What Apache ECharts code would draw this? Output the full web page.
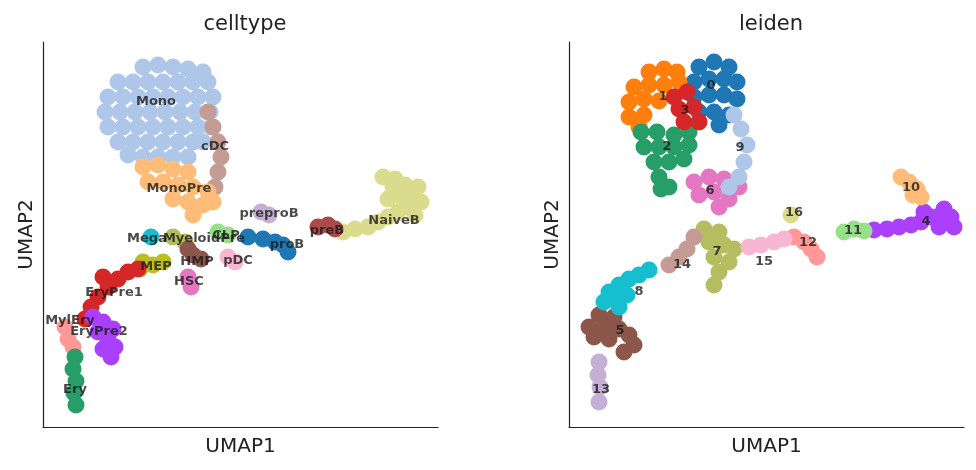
<!DOCTYPE html>
<html><head><meta charset="utf-8">
<script src="https://cdn.jsdelivr.net/npm/echarts@6/dist/echarts.min.js"></script>
<style>html,body{margin:0;background:#fff}#c{width:976px;height:470px}</style>
</head><body><div id="c"></div>
<script>
// celltype clusters (UMAP units)
const ctNames=["Mono","cDC","MonoPre","preproB","NaiveB","preB","proB","CLP","Mega","MyeloidPre","MEP","HMP","pDC","HSC","EryPre1","MylEry","EryPre2","Ery"];
const ctColors=["#aec7e8","#c49c94","#ffbb78","#c5b0d5","#dbdb8d","#ad494a","#1f77b4","#98df8a","#17becf","#b5bd61","#bcbd22","#8c564b","#f7b6d2","#e377c2","#d62728","#ff9896","#aa40fc","#279e68"];
const ctPoints=[
 [[100,360],[115,362],[130,360],[145,358],[160,355],[75,345],[90,345],[105,345],[120,345],[135,345],[150,345],[165,345],[65,330],[80,330],[95,330],[110,330],[125,330],[140,330],[155,330],[170,330],[62,315],[77,315],[92,315],[107,315],[122,315],[137,315],[152,315],[167,315],[65,300],[80,300],[95,300],[110,300],[125,300],[140,300],[155,300],[168,300],[75,285],[90,285],[105,285],[120,285],[135,285],[150,285],[160,285],[85,272],[100,270],[115,270],[130,270],[145,270]],
 [[165,315],[170,300],[175,285],[178,270],[175,255],[172,240]],
 [[100,260],[115,262],[130,258],[145,255],[105,245],[120,245],[135,242],[150,240],[165,235],[130,228],[145,225],[160,222],[150,212],[170,225]],
 [[218,215],[226,212]],
 [[300,195],[312,198],[325,200],[335,205],[345,210],[355,215],[365,220],[372,212],[360,228],[350,240],[340,250],[352,248],[362,242],[375,240],[370,230],[378,225],[345,228]],
 [[275,200],[285,202],[292,198]],
 [[205,190],[220,188],[232,185],[245,175],[240,182]],
 [[175,195],[185,192]],
 [[108,190]],
 [[130,190],[142,185]],
 [[100,165],[110,162],[120,165],[97,158]],
 [[150,172],[158,168],[145,178]],
 [[185,170],[192,165]],
 [[145,150],[148,140]],
 [[85,155],[95,158],[75,148],[65,140],[55,130],[48,120],[42,108],[60,150]],
 [[22,100],[25,88],[30,80]],
 [[50,110],[60,105],[70,98],[55,95],[65,88],[72,80],[60,78],[68,70]],
 [[32,70],[30,58],[33,46],[31,34],[33,22]]
];
const ctLabels=[[113,325],[172,280],[136,238],[226,213],[351,206],[284,196],[244,182],[183,191],[104,188],[161,188],[113,160],[154,165],[195,166],[146,145],[71,134],[27,106],[56,95],[32,37]];

// leiden clusters
const ldNames=["0","1","2","3","4","5","6","7","8","9","10","11","12","13","14","15","16"];
const ldColors=["#1f77b4","#ff7f0e","#279e68","#d62728","#aa40fc","#8c564b","#e377c2","#b5bd61","#17becf","#aec7e8","#ffbb78","#98df8a","#ff9896","#c5b0d5","#c49c94","#f7b6d2","#dbdb8d"];
const ldPoints=[
 [[130,360],[145,365],[160,360],[125,345],[140,348],[155,348],[168,345],[125,330],[140,332],[155,332],[168,328],[130,315],[145,315],[160,312],[150,302]],
 [[80,355],[95,358],[108,355],[65,340],[80,342],[95,342],[110,345],[60,325],[75,328],[90,326],[60,310],[75,312],[70,300]],
 [[72,295],[88,295],[105,292],[120,295],[75,280],[90,280],[105,280],[120,282],[85,265],[100,265],[115,268],[90,250],[100,240],[92,238]],
 [[105,330],[118,335],[110,318],[125,320],[115,305],[130,305]],
 [[305,197],[318,198],[330,200],[342,202],[352,205],[362,210],[372,212],[382,210],[370,200],[385,200],[355,215],[375,218]],
 [[30,112],[45,110],[20,100],[35,100],[50,98],[60,92],[65,82],[55,75],[25,90],[40,88]],
 [[125,245],[140,250],[155,248],[170,240],[130,232],[145,235],[160,228],[150,220]],
 [[135,198],[150,195],[140,185],[155,182],[165,178],[145,170],[160,165],[150,155],[145,142]],
 [[80,157],[70,152],[60,148],[50,142],[40,135],[35,125],[45,128],[58,132],[50,120]],
 [[165,312],[172,298],[178,282],[175,265],[170,250],[160,240]],
 [[332,250],[340,245],[348,238],[352,230],[344,232]],
 [[275,195],[285,198],[295,196]],
 [[225,190],[235,185],[242,178],[248,170]],
 [[30,65],[29,52],[31,40],[30,25]],
 [[125,190],[118,178],[110,170],[100,162]],
 [[180,180],[192,182],[205,185],[215,188]],
 [[222,212]]
];
const ldLabels=[[142,341],[94,330],[98,280],[116,316],[357,205],[51,96],[141,236],[148,175],[70,135],[171,279],[342,239],[284,196],[239,184],[32,37],[113,162],[195,165],[225,214]];

const F="DejaVu Sans";
function panel(idx,names,colors,points,labels){
  const s=names.map((n,i)=>({type:'scatter',xAxisIndex:idx,yAxisIndex:idx,name:n,data:points[i],
    symbolSize:17,itemStyle:{color:colors[i],opacity:1},silent:true,animation:false}));
  s.push({type:'scatter',xAxisIndex:idx,yAxisIndex:idx,symbolSize:0,z:10,animation:false,
    data:labels.map((p,i)=>({value:p,name:names[i]})),
    label:{show:true,position:'inside',formatter:'{b}',fontFamily:F,fontWeight:'bold',fontSize:13,color:'#1a1a1a'}});
  return s;
}
const axX=i=>({gridIndex:i,min:0,max:395,name:'UMAP1',nameLocation:'middle',nameGap:10,
  nameTextStyle:{fontFamily:F,fontSize:20,color:'#222',verticalAlign:'top'},axisLine:{lineStyle:{color:'#222',width:1.2}},
  axisTick:{show:false},axisLabel:{show:false},splitLine:{show:false}});
const axY=i=>({gridIndex:i,min:0,max:385,name:'UMAP2',nameLocation:'middle',nameGap:6,
  nameTextStyle:{fontFamily:F,fontSize:20,color:'#222',verticalAlign:'bottom'},axisLine:{lineStyle:{color:'#222',width:1.2}},
  axisTick:{show:false},axisLabel:{show:false},splitLine:{show:false}});
const chart=echarts.init(document.getElementById('c'));
chart.setOption({
  backgroundColor:'#fff',animation:false,
  title:[{text:'celltype',left:240,top:9,textAlign:'center',textStyle:{fontFamily:F,fontSize:21,fontWeight:'normal',color:'#222'}},
         {text:'leiden',left:766,top:9,textAlign:'center',textStyle:{fontFamily:F,fontSize:21,fontWeight:'normal',color:'#222'}}],
  grid:[{left:43,top:42,width:395,height:385},{left:569,top:42,width:395,height:385}],
  xAxis:[axX(0),axX(1)],yAxis:[axY(0),axY(1)],
  series:[...panel(0,ctNames,ctColors,ctPoints,ctLabels),...panel(1,ldNames,ldColors,ldPoints,ldLabels)]
});
</script></body></html>
